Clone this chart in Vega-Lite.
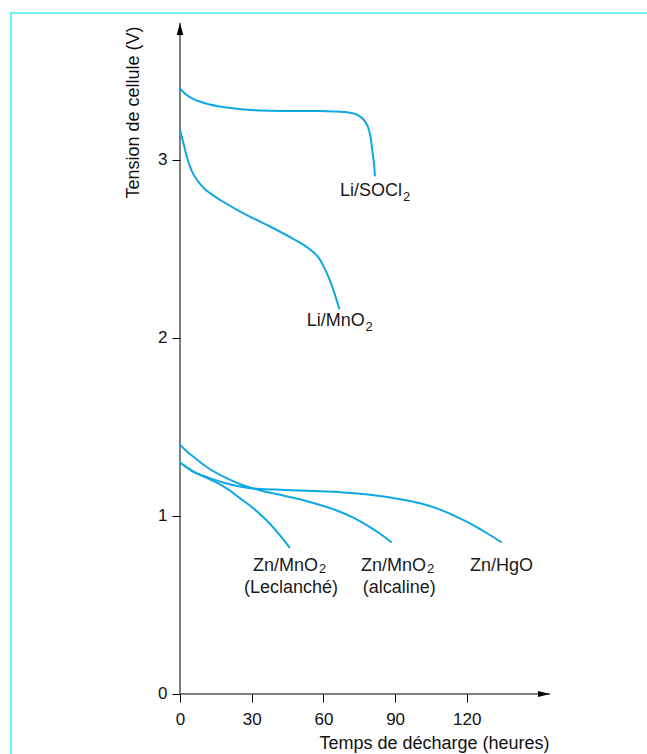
{
  "$schema": "https://vega.github.io/schema/vega-lite/v6.json",
  "width": 636,
  "height": 741,
  "autosize": {"type": "none"},
  "padding": {"left": 11, "top": 13, "right": 0, "bottom": 0},
  "background": "white",
  "view": {"stroke": "#6ef3f3", "strokeWidth": 2, "strokeDash": [636, 1377, 741], "fill": "white"},
  "config": {"font": "Liberation Sans"},
  "datasets": {
    "curves": [
      {"battery": "Li/SOCl2", "t": 0, "v": 3.4},
      {"battery": "Li/SOCl2", "t": 2, "v": 3.372},
      {"battery": "Li/SOCl2", "t": 5, "v": 3.345},
      {"battery": "Li/SOCl2", "t": 9.75, "v": 3.32},
      {"battery": "Li/SOCl2", "t": 16, "v": 3.3},
      {"battery": "Li/SOCl2", "t": 23.7, "v": 3.286},
      {"battery": "Li/SOCl2", "t": 30, "v": 3.279},
      {"battery": "Li/SOCl2", "t": 37.6, "v": 3.275},
      {"battery": "Li/SOCl2", "t": 50, "v": 3.273},
      {"battery": "Li/SOCl2", "t": 58.6, "v": 3.274},
      {"battery": "Li/SOCl2", "t": 65.6, "v": 3.27},
      {"battery": "Li/SOCl2", "t": 70, "v": 3.266},
      {"battery": "Li/SOCl2", "t": 72.5, "v": 3.26},
      {"battery": "Li/SOCl2", "t": 75.3, "v": 3.243},
      {"battery": "Li/SOCl2", "t": 77.4, "v": 3.215},
      {"battery": "Li/SOCl2", "t": 78.8, "v": 3.178},
      {"battery": "Li/SOCl2", "t": 79.8, "v": 3.122},
      {"battery": "Li/SOCl2", "t": 80.5, "v": 3.047},
      {"battery": "Li/SOCl2", "t": 81.2, "v": 2.972},
      {"battery": "Li/SOCl2", "t": 81.6, "v": 2.906},
      {"battery": "Li/MnO2", "t": 0, "v": 3.168},
      {"battery": "Li/MnO2", "t": 1.5, "v": 3.09},
      {"battery": "Li/MnO2", "t": 3, "v": 3.01},
      {"battery": "Li/MnO2", "t": 5, "v": 2.935},
      {"battery": "Li/MnO2", "t": 7.5, "v": 2.88},
      {"battery": "Li/MnO2", "t": 10, "v": 2.84},
      {"battery": "Li/MnO2", "t": 13, "v": 2.808},
      {"battery": "Li/MnO2", "t": 16.7, "v": 2.775},
      {"battery": "Li/MnO2", "t": 23.7, "v": 2.72},
      {"battery": "Li/MnO2", "t": 30, "v": 2.675},
      {"battery": "Li/MnO2", "t": 37.7, "v": 2.625},
      {"battery": "Li/MnO2", "t": 45, "v": 2.573},
      {"battery": "Li/MnO2", "t": 51.6, "v": 2.523},
      {"battery": "Li/MnO2", "t": 55, "v": 2.49},
      {"battery": "Li/MnO2", "t": 58, "v": 2.45},
      {"battery": "Li/MnO2", "t": 60.5, "v": 2.39},
      {"battery": "Li/MnO2", "t": 62.5, "v": 2.33},
      {"battery": "Li/MnO2", "t": 64.5, "v": 2.255},
      {"battery": "Li/MnO2", "t": 66.7, "v": 2.16},
      {"battery": "Leclanché", "t": 0, "v": 1.3},
      {"battery": "Leclanché", "t": 5, "v": 1.255},
      {"battery": "Leclanché", "t": 10, "v": 1.22},
      {"battery": "Leclanché", "t": 15, "v": 1.19},
      {"battery": "Leclanché", "t": 20, "v": 1.15},
      {"battery": "Leclanché", "t": 25, "v": 1.1},
      {"battery": "Leclanché", "t": 30, "v": 1.05},
      {"battery": "Leclanché", "t": 34, "v": 1.004},
      {"battery": "Leclanché", "t": 38, "v": 0.95},
      {"battery": "Leclanché", "t": 42, "v": 0.888},
      {"battery": "Leclanché", "t": 46, "v": 0.82},
      {"battery": "alcaline", "t": 0, "v": 1.4},
      {"battery": "alcaline", "t": 3, "v": 1.36},
      {"battery": "alcaline", "t": 6.3, "v": 1.325},
      {"battery": "alcaline", "t": 11.8, "v": 1.269},
      {"battery": "alcaline", "t": 18.8, "v": 1.216},
      {"battery": "alcaline", "t": 25.8, "v": 1.175},
      {"battery": "alcaline", "t": 34.2, "v": 1.141},
      {"battery": "alcaline", "t": 43.9, "v": 1.112},
      {"battery": "alcaline", "t": 51.6, "v": 1.088},
      {"battery": "alcaline", "t": 58, "v": 1.064},
      {"battery": "alcaline", "t": 65.6, "v": 1.03},
      {"battery": "alcaline", "t": 72.5, "v": 0.99},
      {"battery": "alcaline", "t": 79.5, "v": 0.937},
      {"battery": "alcaline", "t": 84, "v": 0.897},
      {"battery": "alcaline", "t": 88.6, "v": 0.851},
      {"battery": "Zn/HgO", "t": 0, "v": 1.3},
      {"battery": "Zn/HgO", "t": 5, "v": 1.252},
      {"battery": "Zn/HgO", "t": 11.8, "v": 1.215},
      {"battery": "Zn/HgO", "t": 18.8, "v": 1.185},
      {"battery": "Zn/HgO", "t": 25, "v": 1.165},
      {"battery": "Zn/HgO", "t": 32, "v": 1.152},
      {"battery": "Zn/HgO", "t": 43.9, "v": 1.146},
      {"battery": "Zn/HgO", "t": 58.6, "v": 1.138},
      {"battery": "Zn/HgO", "t": 70, "v": 1.13},
      {"battery": "Zn/HgO", "t": 79.5, "v": 1.119},
      {"battery": "Zn/HgO", "t": 93.4, "v": 1.091},
      {"battery": "Zn/HgO", "t": 100, "v": 1.072},
      {"battery": "Zn/HgO", "t": 107.4, "v": 1.042},
      {"battery": "Zn/HgO", "t": 114, "v": 1.006},
      {"battery": "Zn/HgO", "t": 121.3, "v": 0.958},
      {"battery": "Zn/HgO", "t": 128.3, "v": 0.904},
      {"battery": "Zn/HgO", "t": 134.6, "v": 0.851}
    ],
    "labels": [
      {"label": "Li/SOCl", "t": 66.95, "v": 2.795},
      {"label": "Li/MnO", "t": 53.0, "v": 2.064},
      {"label": "Zn/MnO", "t": 30.54, "v": 0.69},
      {"label": "(Leclanché)", "t": 26.78, "v": 0.5685},
      {"label": "Zn/MnO", "t": 75.73, "v": 0.69},
      {"label": "(alcaline)", "t": 76.44, "v": 0.5685},
      {"label": "Zn/HgO", "t": 121.34, "v": 0.69}
    ],
    "subscripts": [
      {"label": "2", "t": 93.3, "v": 2.767},
      {"label": "2", "t": 77.6, "v": 2.036},
      {"label": "2", "t": 58.2, "v": 0.681},
      {"label": "2", "t": 103.3, "v": 0.681}
    ],
    "axislines": [
      {"t": 0, "v": 0, "t2": 154.8, "v2": 0},
      {"t": 0, "v": 0, "t2": 0, "v2": 3.768}
    ],
    "arrows": [
      {"dir": "up", "t": 0, "v": 3.768},
      {"dir": "right", "t": 154.8, "v": 0}
    ]
  },
  "encoding": {
    "x": {
      "field": "t",
      "type": "quantitative",
      "scale": {"domain": [-70.711, 195.397], "nice": false, "zero": false},
      "axis": {
        "values": [0, 30, 60, 90, 120],
        "format": "d",
        "offset": -60,
        "domain": false,
        "grid": false,
        "tickColor": "black",
        "tickSize": 8,
        "tickWidth": 1,
        "labelFont": "Liberation Sans",
        "labelFontSize": 17,
        "labelColor": "#111111",
        "labelBaseline": "alphabetic",
        "labelPadding": 22,
        "labelFlush": false,
        "labelOverlap": false,
        "title": "Temps de décharge (heures)",
        "titleFont": "Liberation Sans",
        "titleFontSize": 18,
        "titleFontWeight": "normal",
        "titleColor": "#111111",
        "titleX": 423,
        "titleY": 54,
        "titleAlign": "center",
        "titleBaseline": "alphabetic"
      }
    },
    "y": {
      "field": "v",
      "type": "quantitative",
      "scale": {"domain": [-0.3369, 3.8237], "nice": false, "zero": false},
      "axis": {
        "values": [0, 1, 2, 3],
        "format": "d",
        "offset": -169,
        "domain": false,
        "grid": false,
        "tickColor": "black",
        "tickSize": 8,
        "tickWidth": 1,
        "labelFont": "Liberation Sans",
        "labelFontSize": 17,
        "labelColor": "#111111",
        "labelPadding": 5,
        "labelOverlap": false,
        "labelFlush": false,
        "title": "Tension de cellule (V)",
        "titleFont": "Liberation Sans",
        "titleFontSize": 18,
        "titleFontWeight": "normal",
        "titleColor": "#111111",
        "titleAngle": 270,
        "titleX": -42,
        "titleY": 99,
        "titleAlign": "center",
        "titleBaseline": "alphabetic"
      }
    }
  },
  "layer": [
    {
      "data": {"name": "axislines"},
      "mark": {"type": "rule", "color": "black", "strokeWidth": 1},
      "encoding": {
        "x2": {"field": "t2"},
        "y2": {"field": "v2"}
      }
    },
    {
      "data": {"name": "arrows"},
      "mark": {"type": "point", "filled": true, "color": "black", "size": 144, "opacity": 1, "strokeWidth": 0},
      "encoding": {
        "shape": {
          "field": "dir",
          "type": "nominal",
          "scale": {"domain": ["up", "right"], "range": ["M0,0L0.55,2L-0.55,2Z", "M0,0L-2,-0.5L-2,0.5Z"]},
          "legend": null
        }
      }
    },
    {
      "data": {"name": "curves"},
      "mark": {"type": "line", "interpolate": "monotone", "strokeWidth": 2, "color": "#0fa8e3"},
      "encoding": {
        "detail": {"field": "battery", "type": "nominal"}
      }
    },
    {
      "data": {"name": "labels"},
      "mark": {"type": "text", "align": "left", "baseline": "alphabetic", "fontSize": 18, "color": "#1a1a1a", "font": "Liberation Sans"},
      "encoding": {
        "text": {"field": "label", "type": "nominal"}
      }
    },
    {
      "data": {"name": "subscripts"},
      "mark": {"type": "text", "align": "left", "baseline": "alphabetic", "fontSize": 13, "color": "#1a1a1a", "font": "Liberation Sans"},
      "encoding": {
        "text": {"field": "label", "type": "nominal"}
      }
    }
  ]
}
